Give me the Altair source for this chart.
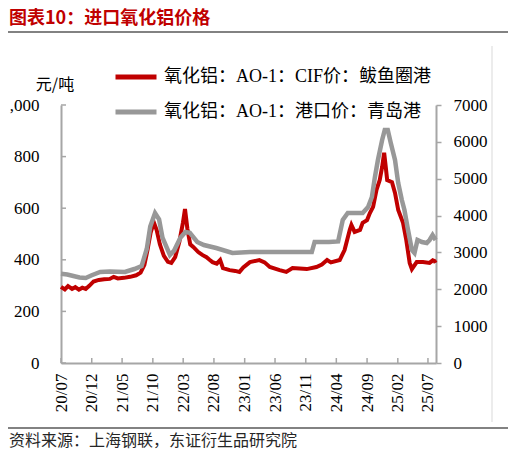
import altair as alt
import pandas as pd

# ---- data ----
cif_dates = [
    "2020-07-01", "2020-07-20", "2020-08-05", "2020-08-25", "2020-09-10", "2020-09-28",
    "2020-10-15", "2020-11-01", "2020-11-20", "2020-12-10", "2021-01-05", "2021-02-01",
    "2021-03-01", "2021-03-20", "2021-04-10", "2021-05-10", "2021-06-10", "2021-07-10",
    "2021-08-01", "2021-08-20", "2021-09-05", "2021-09-20", "2021-10-06", "2021-10-20",
    "2021-11-05", "2021-11-25", "2021-12-15", "2022-01-01", "2022-01-20", "2022-02-10",
    "2022-02-28", "2022-03-10", "2022-03-22", "2022-04-05", "2022-04-20", "2022-05-15",
    "2022-06-06", "2022-06-25", "2022-07-10", "2022-07-25", "2022-08-15", "2022-09-01",
    "2022-09-15", "2022-10-18", "2022-11-15", "2022-12-06", "2022-12-25", "2023-01-27",
    "2023-03-15", "2023-04-10", "2023-05-06", "2023-06-24", "2023-07-27", "2023-08-27",
    "2023-10-01", "2023-11-06", "2023-12-24", "2024-01-20", "2024-02-15", "2024-03-05",
    "2024-04-18", "2024-05-12", "2024-06-07", "2024-06-15", "2024-07-01", "2024-07-28",
    "2024-08-10", "2024-09-01", "2024-09-15", "2024-10-01", "2024-10-18", "2024-11-03",
    "2024-11-15", "2024-11-25", "2024-12-03", "2024-12-10", "2025-01-03", "2025-01-18",
    "2025-02-03", "2025-02-27", "2025-03-15", "2025-04-01", "2025-04-12", "2025-05-06",
    "2025-06-06", "2025-07-09", "2025-07-25", "2025-08-03", "2025-08-08",
]
cif_values = [
    295, 285, 298, 287, 294, 284,
    292, 287, 300, 316, 322, 325,
    326, 334, 328, 330, 334, 340,
    350, 380, 440, 505, 545, 515,
    460, 415, 392, 388, 410, 470,
    545, 597, 520, 460, 450, 430,
    418, 410, 400, 391, 385, 399,
    368, 360, 357, 353, 370, 391,
    399, 390, 372, 360, 353, 368,
    366, 364, 372, 382, 399, 390,
    399, 438, 516, 535, 508, 516,
    543, 554, 581, 605, 671, 709,
    760, 815, 760, 709, 701, 659,
    593, 543, 477, 388, 364, 391,
    391, 388, 398, 395, 388,
]

port_dates = [
    "2020-07-01", "2020-08-01", "2020-09-01", "2020-10-01", "2020-11-01", "2020-12-01",
    "2021-01-12", "2021-03-01", "2021-05-15", "2021-07-01", "2021-08-06", "2021-09-01",
    "2021-09-18", "2021-10-12", "2021-11-01", "2021-11-18", "2021-12-25", "2022-01-15",
    "2022-02-15", "2022-03-12", "2022-04-03", "2022-05-10", "2022-06-12", "2022-08-12",
    "2022-11-01", "2023-01-27", "2023-10-18", "2023-12-01", "2023-12-15", "2024-02-25",
    "2024-04-10", "2024-05-03", "2024-05-28", "2024-08-10", "2024-09-06", "2024-09-25",
    "2024-10-10", "2024-10-25", "2024-11-15", "2024-11-28", "2024-12-13", "2024-12-28",
    "2025-01-18", "2025-02-03", "2025-02-21", "2025-03-06", "2025-03-21", "2025-04-12",
    "2025-04-25", "2025-05-10", "2025-06-01", "2025-06-25", "2025-07-09", "2025-07-24",
    "2025-08-08",
]
port_values = [
    2420, 2400, 2360, 2320, 2306, 2380,
    2470, 2480, 2470, 2550, 2630, 3100,
    3700, 4070, 3900, 3400, 2930, 3050,
    3400, 3554, 3530, 3283, 3201, 3120,
    2984, 3012, 3012, 3012, 3283, 3283,
    3300, 3880, 4070, 4070, 4232, 4504,
    5046, 5508, 6050, 6321, 6321, 5969,
    5508, 4883, 4422, 4151, 3690, 3066,
    2984, 3337, 3283, 3256, 3337, 3473,
    3337,
]

series_names = ["氧化铝：AO-1：CIF价：鲅鱼圈港", "氧化铝：AO-1：港口价：青岛港"]
series_colors = ["#C00000", "#989898"]
x_tick_months = [(2020, 7), (2020, 12), (2021, 5), (2021, 10), (2022, 3), (2022, 8),
                 (2023, 1), (2023, 6), (2023, 11), (2024, 4), (2024, 9), (2025, 2), (2025, 7)]
left_ticks = [0, 200, 400, 600, 800, 1000]
right_ticks = [0, 1000, 2000, 3000, 4000, 5000, 6000, 7000]

title_text = "图表10：进口氧化铝价格"
unit_text = "元/吨"
source_text = "资料来源：上海钢联，东证衍生品研究院"

# ---- frames ----
cif_df = pd.DataFrame({"date": cif_dates, "value": cif_values, "series": series_names[0]})
port_df = pd.DataFrame({"date": port_dates, "value": port_values, "series": series_names[1]})
xtick_df = pd.DataFrame({"date": [f"{y}-{m:02d}-01" for y, m in x_tick_months]})
ltick_df = pd.DataFrame({"value": left_ticks})
one = pd.DataFrame({"a": [0]})

SERIF = "Liberation Serif, Noto Sans CJK SC"
CJK = "Noto Sans CJK SC"
AXIS_GRAY = "#a6a6a6"

x_scale = alt.Scale(domain=[alt.DateTime(year=2020, month=7, date=1),
                            alt.DateTime(year=2025, month=8, date=10)])

x_enc = alt.X(
    "date:T",
    scale=x_scale,
    axis=alt.Axis(
        values=[alt.DateTime(year=y, month=m, date=1) for y, m in x_tick_months],
        format="%y/%m", labelAngle=-90, labelFont=SERIF, labelFontSize=17,
        labelColor="#000000", tickSize=0, labelPadding=10,
        domainColor=AXIS_GRAY, domainWidth=2, grid=False, title=None,
    ),
)

color_enc = alt.Color(
    "series:N",
    scale=alt.Scale(domain=series_names, range=series_colors),
    legend=alt.Legend(
        orient="none", legendX=52, legendY=-51, direction="vertical", title=None,
        symbolType="stroke", symbolStrokeWidth=5, symbolSize=1681,
        labelFont=SERIF, labelFontSize=18, labelColor="#000000", labelOffset=5,
        rowPadding=2, padding=0, labelLimit=400,
    ),
)

red = alt.Chart(cif_df).mark_line(strokeWidth=4).encode(
    x=x_enc,
    y=alt.Y("value:Q", scale=alt.Scale(domain=[0, 1000]),
            axis=alt.Axis(orient="left", values=left_ticks,
                          labelExpr="datum.value == 1000 ? ',000' : datum.label",
                          labelFont=SERIF, labelFontSize=17, labelColor="#000000",
                          tickSize=0, labelPadding=22, domainColor=AXIS_GRAY,
                          domainWidth=2, grid=False, title=None)),
    color=color_enc,
)

gray = alt.Chart(port_df).mark_line(strokeWidth=4.5).encode(
    x=x_enc,
    y=alt.Y("value:Q", scale=alt.Scale(domain=[0, 7000]),
            axis=alt.Axis(orient="right", values=right_ticks, format="d",
                          labelFont=SERIF, labelFontSize=17, labelColor="#000000",
                          tickSize=5, tickColor=AXIS_GRAY, tickWidth=1.5, labelPadding=12,
                          domainColor=AXIS_GRAY, domainWidth=2, grid=False, title=None)),
    color=color_enc,
)

# inward ticks on the bottom and left axes (drawn through the same scales)
xticks = alt.Chart(xtick_df).mark_rule(color=AXIS_GRAY, strokeWidth=1.5).encode(
    x=x_enc,
    y=alt.value(253), y2=alt.value(258),
)
lticks = alt.Chart(ltick_df).mark_rule(color=AXIS_GRAY, strokeWidth=1.5).encode(
    y=alt.Y("value:Q", scale=alt.Scale(domain=[0, 1000]), axis=None),
    x=alt.value(0), x2=alt.value(5),
)

title = alt.Chart(one).mark_text(
    text=title_text, font=CJK, fontSize=18, fontWeight="bold", color="#C00000",
    align="left", baseline="top",
).encode(x=alt.value(-52), y=alt.value(-95))

top_rule = alt.Chart(one).mark_rule(color="#595959", strokeWidth=1.5).encode(
    x=alt.value(-53), x2=alt.value(450), y=alt.value(-73))

bottom_rule = alt.Chart(one).mark_rule(color="#595959", strokeWidth=1.5).encode(
    x=alt.value(-53), x2=alt.value(450), y=alt.value(323))

frame_rule = alt.Chart(one).mark_rule(color="#d9d9d9", strokeWidth=1).encode(
    x=alt.value(431), y=alt.value(-59), y2=alt.value(317))

unit = alt.Chart(one).mark_text(
    text=unit_text, font=CJK, fontSize=16, color="#000000",
    align="center", baseline="middle",
).encode(x=alt.value(-6), y=alt.value(-20))

source = alt.Chart(one).mark_text(
    text=source_text, font=CJK, fontSize=16, color="#262626",
    align="left", baseline="middle",
).encode(x=alt.value(-52), y=alt.value(336))

chart = alt.layer(
    red, gray, xticks, lticks, title, top_rule, bottom_rule, frame_rule, unit, source
).resolve_scale(
    y="independent"
).properties(
    width=375, height=258,
    autosize=alt.AutoSizeParams(type="none"),
    padding={"left": 53, "top": 97, "right": 72, "bottom": 88},
    background="#ffffff",
).configure_view(stroke=None)

chart.save("out.html", embed_options={"renderer": "svg", "actions": False})
